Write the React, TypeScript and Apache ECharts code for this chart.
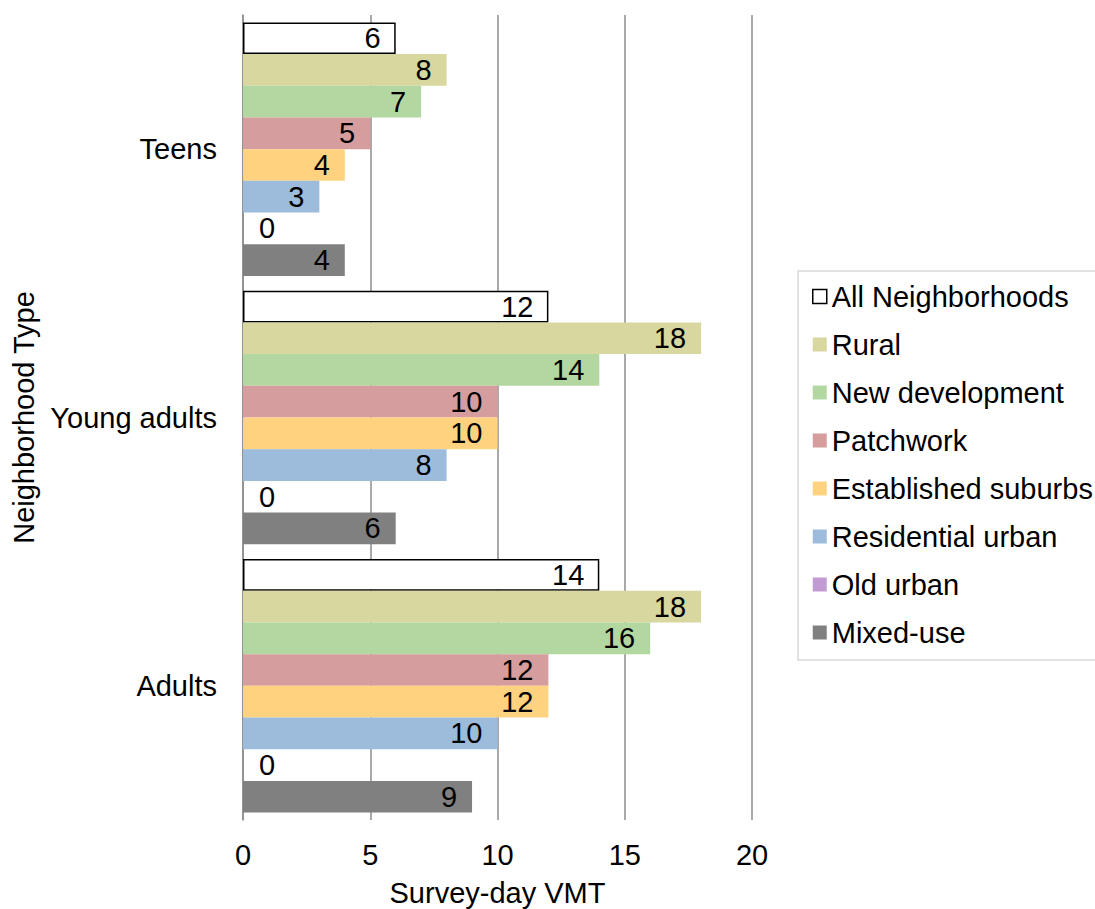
import React, { useEffect, useRef } from "react";
import * as echarts from "echarts";

const categories = ["Teens", "Young adults", "Adults"];
const seriesNames = [
  "All Neighborhoods",
  "Rural",
  "New development",
  "Patchwork",
  "Established suburbs",
  "Residential urban",
  "Old urban",
  "Mixed-use",
];
const allNeighborhoods = [6, 12, 14];
const rural = [8, 18, 18];
const newDevelopment = [7, 14, 16];
const patchwork = [5, 10, 12];
const establishedSuburbs = [4, 10, 12];
const residentialUrban = [3, 8, 10];
const oldUrban = [0, 0, 0];
const mixedUse = [4, 6, 9];
const xTicks = { min: 0, max: 20, interval: 5 };

const seriesValues = [
  allNeighborhoods,
  rural,
  newDevelopment,
  patchwork,
  establishedSuburbs,
  residentialUrban,
  oldUrban,
  mixedUse,
];
const colors = [
  "#ffffff",
  "#d7d79f",
  "#b3d7a0",
  "#d59d9d",
  "#ffd280",
  "#9dbbdb",
  "#c39bd3",
  "#808080",
];

const FONT = "'Liberation Sans', Arial, sans-serif";
const FS = 29;

export default function App() {
  const ref = useRef<HTMLDivElement>(null);
  useEffect(() => {
    document.body.style.margin = "0";
    const chart = echarts.init(ref.current!, null, { renderer: "svg" });
    const series = seriesNames.map((name, i) => ({
      name,
      type: "bar",
      data: seriesValues[i],
      barGap: "0%",
      barCategoryGap: "5.5%",
      itemStyle:
        i === 0
          ? { color: "#ffffff", borderColor: "#000000", borderWidth: 1.5 }
          : { color: colors[i] },
      label: {
        show: true,
        position: i === 6 ? "right" : "insideRight",
        distance: i === 6 ? 16 : 15,
        color: "#000",
        fontSize: FS,
        fontFamily: FONT,
      },
    }));
    chart.setOption({
      animation: false,
      textStyle: { fontFamily: FONT },
      grid: {
        left: 243,
        right: 343,
        top: 15,
        bottom: 89,
        containLabel: false,
        outerBoundsMode: "none",
      },
      legend: {
        orient: "vertical",
        left: 798,
        top: 271,
        padding: [11, 40, 13, 14],
        itemGap: 19,
        itemWidth: 14,
        itemHeight: 14,
        icon: "rect",
        borderColor: "#d9d9d9",
        borderWidth: 1.5,
        data: seriesNames.map((n, i) =>
          i === 0
            ? { name: n, itemStyle: { color: "#fff", borderColor: "#000", borderWidth: 1.5 } }
            : { name: n }
        ),
        textStyle: { fontSize: FS, color: "#000", fontFamily: FONT, lineHeight: 28 },
      },
      xAxis: {
        type: "value",
        min: xTicks.min,
        max: xTicks.max,
        interval: xTicks.interval,
        axisLine: { show: false },
        axisTick: { show: false },
        splitLine: { lineStyle: { color: "#8c8c8c", width: 1.5 } },
        axisLabel: { fontSize: FS, color: "#000", margin: 20, fontFamily: FONT },
        name: "Survey-day VMT",
        nameLocation: "middle",
        nameGap: 58,
        nameTextStyle: { fontSize: FS, color: "#000", fontFamily: FONT },
      },
      yAxis: {
        type: "category",
        inverse: true,
        data: categories,
        axisLine: { show: true, lineStyle: { color: "#8c8c8c", width: 1.5 } },
        axisTick: { show: false },
        axisLabel: { fontSize: FS, color: "#000", margin: 26, fontFamily: FONT },
        name: "Neighborhood Type",
        nameLocation: "middle",
        nameGap: 205,
        nameRotate: 90,
        nameTextStyle: { fontSize: FS, color: "#000", fontFamily: FONT },
      },
      color: colors,
      series,
    });
    return () => chart.dispose();
  }, []);
  return <div ref={ref} style={{ width: 1095, height: 909 }} />;
}
